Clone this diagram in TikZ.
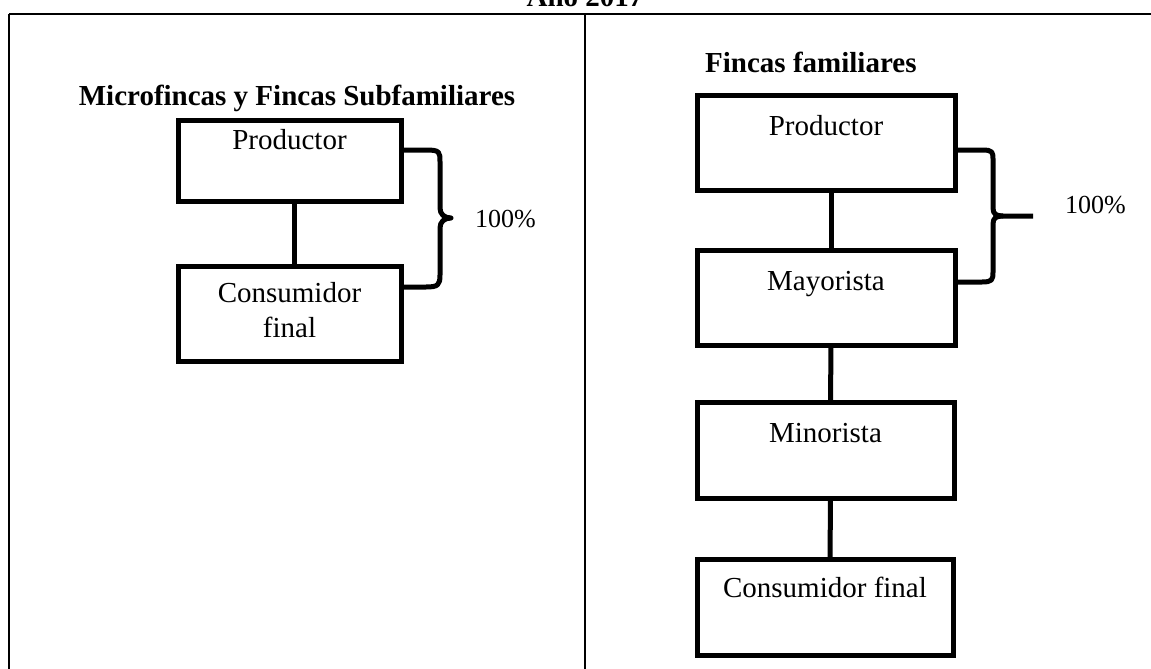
\documentclass[tikz,border=0pt]{standalone}
\usepackage{fontspec}
\setmainfont{Liberation Serif}
\begin{document}
\begin{tikzpicture}[x=1pt,y=-1pt,
  chainbox/.style={draw, line width=5pt, inner sep=0pt, outer sep=0pt,
    anchor=north west, font=\fontsize{29}{35}\selectfont},
  link/.style={line width=5pt},
  brace/.style={line width=5pt, line join=round},
  rule/.style={line width=1.8pt},
  heading/.style={font=\fontsize{29}{35}\selectfont\bfseries, inner sep=0pt},
  share/.style={font=\fontsize{26}{30}\selectfont, inner sep=0pt, anchor=base west}]
  \fill[white] (0,0) rectangle (1151,669);
  \useasboundingbox (0,0) rectangle (1151,669);
  \begin{scope}
    \clip (0,0) rectangle (1151,669);
    % frame of the table
    \node[heading, anchor=base] (title) at (585,7) {Año 2017};
    \coordinate (tl) at (9,14);
    \coordinate (tr) at (1151,14);
    \coordinate (bl) at (9,669);
    \coordinate (tm) at (585,14);
    \coordinate (bm) at (585,669);
    \draw[rule] (tl) -- (tr);
    \draw[rule] (tl) -- (bl);
    \draw[rule] (tm) -- (bm);
  \end{scope}

  % left column
  \node[heading, anchor=base] (hl) at (297,105) {Microfincas y Fincas Subfamiliares};
  \node[chainbox, minimum width=223pt, minimum height=81pt,
        text height=29pt, text depth=52pt] (P1) at (178,120) {Productor};
  \node[chainbox, minimum width=223pt, minimum height=95pt,
        text height=36pt, text depth=59pt] (C1) at (178,266)
        {\begin{tabular}[t]{@{}c@{}}Consumidor\\final\end{tabular}};
  \draw[link] ([xshift=4.5pt]P1.south) -- ([xshift=4.5pt]C1.north);
  \coordinate (b1a) at (401,150);
  \coordinate (b1b) at (401,287);
  \draw[brace] (b1a) -- (426,150) .. controls (440,150) and (440,152) .. (440,162)
     -- (440,208) .. controls (440,214) and (444,218) .. (451,218)
     .. controls (444,218) and (440,222) .. (440,228)
     -- (440,275) .. controls (440,285) and (438,287) .. (426,287) -- (b1b);
  \node[share] (s1) at (475,227) {100\%};

  % right column
  \node[heading, anchor=base west] (hr) at (705,73) {Fincas familiares};
  \node[chainbox, minimum width=258pt, minimum height=95pt,
        text height=40pt, text depth=55pt] (P2) at (697,95) {Productor};
  \node[chainbox, minimum width=258pt, minimum height=95pt,
        text height=40pt, text depth=55pt] (M2) at (697,250) {Mayorista};
  \node[chainbox, minimum width=257pt, minimum height=96pt,
        text height=40pt, text depth=56pt] (N2) at (697,402) {Minorista};
  \node[chainbox, minimum width=256pt, minimum height=96pt,
        text height=38pt, text depth=58pt] (C2) at (697,559) {Consumidor final};
  \draw[link] ([xshift=5pt]P2.south) -- ([xshift=5pt]M2.north);
  \draw[link] ([xshift=5pt]M2.south) -- ([xshift=5pt]N2.north);
  \draw[link] ([xshift=5pt]N2.south) -- ([xshift=5pt]C2.north);
  \coordinate (b2a) at (955,150);
  \coordinate (b2b) at (955,282);
  \coordinate (b2t) at (1033,216);
  \draw[brace] (b2a) -- (982,150) .. controls (993,150) and (993,152) .. (993,160)
     -- (993,208) .. controls (993,214) and (996,216) .. (1003,216) -- (b2t);
  \draw[brace] (1003,216) .. controls (996,216) and (993,218) .. (993,224)
     -- (993,272) .. controls (993,280) and (992,282) .. (982,282) -- (b2b);
  \node[share] (s2) at (1065,213) {100\%};
\end{tikzpicture}
\end{document}
